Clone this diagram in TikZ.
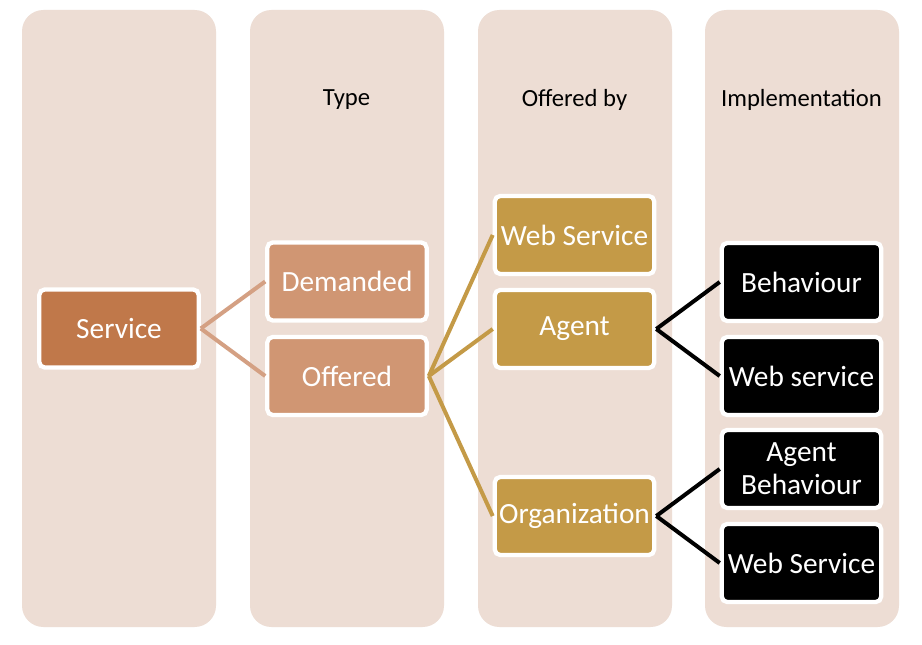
\documentclass[tikz,border=0pt]{standalone}
\usepackage{fontspec}
\setmainfont{Carlito}
\usetikzlibrary{positioning, backgrounds}

\definecolor{columnbg}{HTML}{EDDDD4}
\definecolor{servicefill}{HTML}{C0784A}
\definecolor{typefill}{HTML}{D09673}
\definecolor{offeredfill}{HTML}{C49A47}
\definecolor{typeline}{HTML}{D4A083}

\begin{document}
\begin{tikzpicture}[
    x=0.75pt, y=-0.75pt,
    column/.style={fill=columnbg, rounded corners=16pt},
    header/.style={font=\fontsize{18.5}{22}\selectfont, text=black},
    item/.style={rectangle, rounded corners=4pt, draw=white, line width=3.2pt, minimum width=119.5pt, minimum height=58.5pt, align=center, text=white, inner sep=1pt, font=\fontsize{22}{24.75}\selectfont},
    service/.style={item, fill=servicefill},
    typebox/.style={item, fill=typefill},
    offerbox/.style={item, fill=offeredfill},
    implbox/.style={item, fill=black},
    link/.style={line width=3pt}
]

% Page and columns
\fill[white] (0,0) rectangle (922,645);
\foreach \x in {22,250,478,705}
    \fill[column] (\x,10) rectangle ++(194,617);

% Headers
\node[header] (type_head) at (346.5,100) {Type};
\node[header] (offer_head) at (574.5,100) {Offered by};
\node[header] (impl_head) at (801.5,100) {Implementation};

% Service
\node[service] (service) at (119,328.5) {Service};

% Type
\node[typebox] (demanded) at (347,281.5) {Demanded};
\node[typebox] (offered) at (347,376) {Offered};

% Offered by
\node[offerbox] (webservice) at (574.5,235) {Web Service};
\node[offerbox] (agent) at (574.5,329) {Agent};
\node[offerbox] (organization) at (574.5,516) {Organization};

% Implementation
\node[implbox] (behaviour) at (801.5,282) {Behaviour};
\node[implbox] (agent_ws) at (801.5,376) {Web service};
\node[implbox] (agent_behaviour) at (801.5,469) {Agent\\Behaviour};
\node[implbox] (org_ws) at (801.5,563) {Web Service};

% Links
\draw[link, typeline] (service.east) -- (demanded.west);
\draw[link, typeline] (service.east) -- (offered.west);
\draw[link, offeredfill] (offered.east) -- (webservice.west);
\draw[link, offeredfill] (offered.east) -- (agent.west);
\draw[link, offeredfill] (offered.east) -- (organization.west);
\draw[link, black] (agent.east) -- (behaviour.west);
\draw[link, black] (agent.east) -- (agent_ws.west);
\draw[link, black] (organization.east) -- (agent_behaviour.west);
\draw[link, black] (organization.east) -- (org_ws.west);

\end{tikzpicture}
\end{document}
